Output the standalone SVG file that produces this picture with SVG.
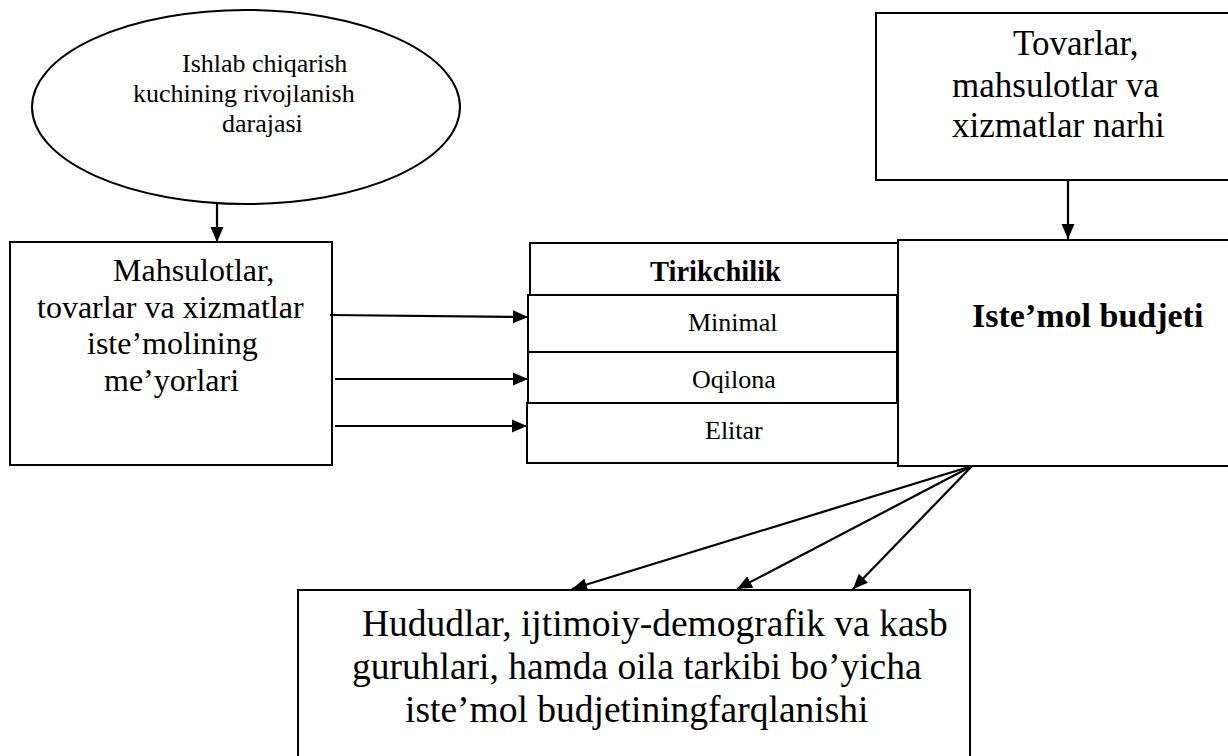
<svg xmlns="http://www.w3.org/2000/svg" width="1228" height="756" viewBox="0 0 1228 756">
<style>
.b{fill:#fff;stroke:#000;stroke-width:2}
.t{font-family:"Liberation Serif","Times New Roman",serif;fill:#000}
.c{stroke:#000;stroke-width:2.2;fill:none;marker-end:url(#ah)}
</style>
<defs>
<marker id="ah" markerWidth="16" markerHeight="14" refX="15" refY="6.5" orient="auto" markerUnits="userSpaceOnUse" viewBox="0 0 16 13">
<path d="M0,0 L15,6.5 L0,13 z" fill="#000"/>
</marker>
</defs>
<rect width="1228" height="756" fill="#fff"/>
<g id="node-ellipse">
<ellipse class="b" cx="246" cy="107" rx="214" ry="97"/>
<text class="t" font-size="26"><tspan x="182" y="72">Ishlab chiqarish</tspan><tspan x="133" y="102">kuchining rivojlanish</tspan><tspan x="222" y="132">darajasi</tspan></text>
</g>
<g id="node-norms">
<rect class="b" x="10" y="242" width="322" height="223"/>
<text class="t" font-size="32"><tspan x="113" y="281">Mahsulotlar,</tspan><tspan x="37" y="318">tovarlar va xizmatlar</tspan><tspan x="87" y="354">iste’molining</tspan><tspan x="104" y="391">me’yorlari</tspan></text>
</g>
<g id="node-prices">
<rect class="b" x="876" y="13" width="370" height="167"/>
<text class="t" font-size="35"><tspan x="1013" y="55">Tovarlar,</tspan><tspan x="952" y="97">mahsulotlar va</tspan><tspan x="952" y="137">xizmatlar narhi</tspan></text>
</g>
<g id="node-tirikchilik">
<rect class="b" x="530" y="243" width="368" height="52"/>
<text class="t" font-size="28.5" font-weight="bold" x="650" y="281">Tirikchilik</text>
</g>
<g id="node-minimal">
<rect class="b" x="528" y="295" width="369" height="57"/>
<text class="t" font-size="26" x="688" y="331">Minimal</text>
</g>
<g id="node-oqilona">
<rect class="b" x="528" y="352" width="369" height="51"/>
<text class="t" font-size="26" x="692" y="388">Oqilona</text>
</g>
<g id="node-elitar">
<rect class="b" x="527" y="403" width="373" height="60"/>
<text class="t" font-size="26" x="705" y="439">Elitar</text>
</g>
<g id="node-budget">
<rect class="b" x="898" y="240" width="350" height="226"/>
<text class="t" font-size="34" font-weight="bold" x="972" y="327">Iste’mol budjeti</text>
</g>
<g id="node-diff">
<rect class="b" x="298" y="590" width="672" height="200"/>
<text class="t" font-size="37.5"><tspan x="362" y="636">Hududlar, ijtimoiy-demografik va kasb</tspan><tspan x="352" y="679">guruhlari, hamda oila tarkibi bo’yicha</tspan><tspan x="405" y="722">iste’mol budjetiningfarqlanishi</tspan></text>
</g>
<g id="connectors">
<line class="c" x1="217" y1="204" x2="217" y2="242"/>
<line class="c" x1="1068" y1="180" x2="1068" y2="239"/>
<line class="c" x1="330" y1="315" x2="528" y2="317"/>
<line class="c" x1="335" y1="379" x2="528" y2="379"/>
<line class="c" x1="335" y1="426" x2="527" y2="426"/>
<line class="c" x1="972" y1="466" x2="572" y2="589"/>
<line class="c" x1="972" y1="466" x2="737" y2="589"/>
<line class="c" x1="972" y1="466" x2="853" y2="589"/>
</g>
</svg>
